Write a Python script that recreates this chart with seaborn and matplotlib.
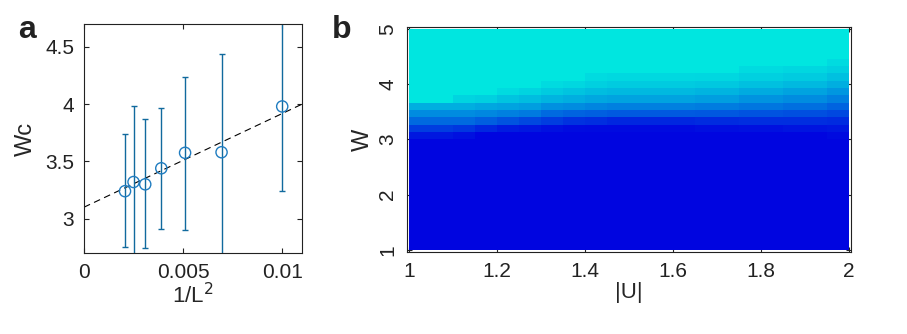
import numpy as np
import pandas as pd
import seaborn as sns
import matplotlib.pyplot as plt
from matplotlib.colors import LinearSegmentedColormap

# panel a data
inv_L2 = [0.00207, 0.0025, 0.00309, 0.0039, 0.0051, 0.00694, 0.01]
wc = [3.24, 3.32, 3.30, 3.44, 3.575, 3.58, 3.98]
wc_err_lo = [0.49, 0.66, 0.56, 0.53, 0.67, 0.90, 0.74]
wc_err_hi = [0.50, 0.66, 0.57, 0.53, 0.66, 0.855, 0.80]
fit_x = [0.0, 0.011]
fit_y = [3.10, 4.00]

# panel b grid: 20 columns in |U| (1..2), 30 rows in W (5 at top .. 1 at bottom)
u_edges = [1.0, 2.0]
w_edges = [5.0, 1.0]
n_cols = 20
n_rows = 30
# rows 4..14 from the top hold the transition, rows above are cyan (1), rows below blue (0)
trans_first_row = 4
trans_rows = [
    # c0   c1    c2    c3    c4    c5    c6    c7    c8    c9    c10   c11   c12   c13   c14   c15   c16   c17   c18   c19
    [1.00, 1.00, 1.00, 1.00, 1.00, 1.00, 1.00, 1.00, 1.00, 1.00, 1.00, 1.00, 1.00, 1.00, 1.00, 1.00, 1.00, 1.00, 1.00, 0.95],
    [1.00, 1.00, 1.00, 1.00, 1.00, 1.00, 1.00, 1.00, 1.00, 1.00, 1.00, 1.00, 1.00, 1.00, 1.00, 0.95, 0.95, 0.93, 0.93, 0.90],
    [1.00, 1.00, 1.00, 1.00, 1.00, 1.00, 1.00, 1.00, 0.95, 0.94, 0.94, 0.94, 0.94, 0.93, 0.93, 0.90, 0.90, 0.88, 0.88, 0.83],
    [1.00, 1.00, 1.00, 1.00, 1.00, 1.00, 0.95, 0.93, 0.90, 0.88, 0.88, 0.88, 0.88, 0.87, 0.87, 0.83, 0.83, 0.80, 0.80, 0.75],
    [1.00, 1.00, 1.00, 1.00, 0.95, 0.92, 0.88, 0.85, 0.82, 0.80, 0.80, 0.80, 0.80, 0.78, 0.78, 0.74, 0.74, 0.70, 0.70, 0.65],
    [1.00, 1.00, 0.92, 0.90, 0.85, 0.82, 0.78, 0.75, 0.72, 0.70, 0.70, 0.70, 0.70, 0.68, 0.68, 0.63, 0.63, 0.60, 0.60, 0.55],
    [0.75, 0.75, 0.75, 0.72, 0.70, 0.68, 0.62, 0.60, 0.57, 0.55, 0.55, 0.55, 0.55, 0.53, 0.53, 0.50, 0.50, 0.47, 0.47, 0.42],
    [0.60, 0.60, 0.60, 0.58, 0.55, 0.52, 0.45, 0.42, 0.40, 0.38, 0.38, 0.38, 0.38, 0.37, 0.37, 0.35, 0.35, 0.33, 0.33, 0.30],
    [0.45, 0.45, 0.45, 0.40, 0.35, 0.30, 0.25, 0.20, 0.18, 0.15, 0.15, 0.15, 0.15, 0.17, 0.17, 0.18, 0.18, 0.18, 0.18, 0.17],
    [0.25, 0.25, 0.22, 0.15, 0.10, 0.08, 0.05, 0.03, 0.02, 0.02, 0.02, 0.02, 0.02, 0.04, 0.04, 0.05, 0.05, 0.07, 0.07, 0.08],
    [0.08, 0.08, 0.05, 0.00, 0.00, 0.00, 0.00, 0.00, 0.00, 0.00, 0.00, 0.00, 0.00, 0.00, 0.00, 0.00, 0.00, 0.00, 0.00, 0.02],
]
u_ticks = [1, 1.2, 1.4, 1.6, 1.8, 2]
u_ticklabels = ['1', '1.2', '1.4', '1.6', '1.8', '2']
w_ticks = [5, 4, 3, 2, 1]
w_ticklabels = ['5', '4', '3', '2', '1']

grid = np.zeros((n_rows, n_cols))
grid[:trans_first_row, :] = 1.0
grid[trans_first_row:trans_first_row + len(trans_rows), :] = np.array(trans_rows)
df_b = pd.DataFrame(grid)

sns.set_style("ticks")
plt.rcParams['font.family'] = ['Liberation Sans', 'DejaVu Sans']
plt.rcParams['axes.edgecolor'] = '#222222'
plt.rcParams['axes.linewidth'] = 0.8

fig = plt.figure(figsize=(9.07, 3.34), dpi=100)
ax1 = fig.add_axes([0.0926, 0.2425, 0.2404, 0.6856])
ax2 = fig.add_axes([0.4487, 0.2455, 0.4895, 0.6737])

bar_col = '#116a9e'
ring_col = '#1f7cc0'

# panel a
ax1.errorbar(inv_L2, wc, yerr=[wc_err_lo, wc_err_hi], fmt='none', ecolor=bar_col,
             elinewidth=1.0, capsize=2.2, capthick=1.0, zorder=2)
sns.lineplot(x=fit_x, y=fit_y, ax=ax1, color='k', linestyle=(0, (6, 4)), linewidth=0.8, zorder=1)
sns.scatterplot(x=inv_L2, y=wc, ax=ax1, marker='o', s=65, facecolor='none',
                edgecolor=ring_col, linewidth=1.0, zorder=3)
ax1.set_xlim(0, 0.011)
ax1.set_ylim(2.7, 4.7)
ax1.set_xticks([0, 0.005, 0.01])
ax1.set_xticklabels(['0', '0.005', '0.01'])
ax1.set_yticks([3, 3.5, 4, 4.5])
ax1.set_yticklabels(['3', '3.5', '4', '4.5'])
ax1.set_xlabel('1/L$^2$', fontsize=16, labelpad=1)
ax1.set_ylabel('Wc', fontsize=17, labelpad=6)
ax1.tick_params(direction='in', top=True, right=True, length=3.5, width=0.8,
                labelsize=15, pad=7, colors='#222222')

# panel b
cmap = LinearSegmentedColormap.from_list('bc', [(0.0, 0.02, 0.88), (0.0, 0.9, 0.88)])
sns.heatmap(df_b, ax=ax2, cmap=cmap, vmin=0, vmax=1, cbar=False,
            xticklabels=False, yticklabels=False)
for s in ax2.spines.values():
    s.set_visible(True)
    s.set_color('#222222')
    s.set_linewidth(0.8)
xpos = [(u - u_edges[0]) / (u_edges[1] - u_edges[0]) * n_cols for u in u_ticks]
ypos = [(w_edges[0] - w) / (w_edges[0] - w_edges[1]) * n_rows for w in w_ticks]
ax2.set_xticks(xpos)
ax2.set_xticklabels(u_ticklabels)
ax2.set_yticks(ypos)
ax2.set_yticklabels(w_ticklabels, rotation=90, va='center')
ax2.set_xlim(-0.1, n_cols + 0.1)
ax2.set_ylim(n_rows + 0.3, -0.3)
ax2.set_xlabel('|U|', fontsize=16, labelpad=1)
ax2.set_ylabel('W', fontsize=17, labelpad=3)
ax2.tick_params(direction='in', top=True, right=True, bottom=True, left=True,
                length=3.5, width=0.8, labelsize=15, pad=7, colors='#222222')

fig.text(0.02, 0.955, 'a', fontsize=23, fontweight='bold', va='top', color='#222222')
fig.text(0.366, 0.955, 'b', fontsize=23, fontweight='bold', va='top', color='#222222')

fig.savefig('out.png', dpi=100)
